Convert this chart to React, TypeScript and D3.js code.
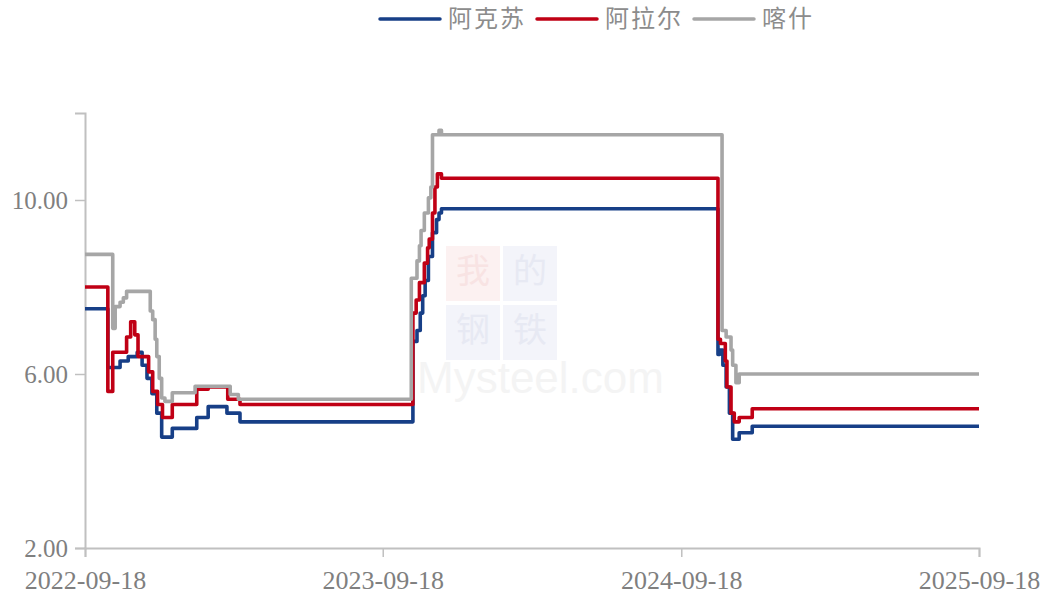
import React, { useEffect, useRef } from "react";
import * as d3 from "d3";

const svgWidth = 1048;
const svgHeight = 596;
const margin = { top: 113, right: 69, bottom: 48, left: 85 };

const seriesNames = ["阿克苏", "阿拉尔", "喀什"];
const seriesColors = ["#173f87", "#c00015", "#a6a6a6"];

// 阿克苏
const akesu: [string, number][] = [
  ["2022-09-18", 7.5],
  ["2022-10-16", 6.15],
  ["2022-10-31", 6.3],
  ["2022-11-10", 6.4],
  ["2022-11-21", 6.5],
  ["2022-11-27", 6.2],
  ["2022-12-03", 5.9],
  ["2022-12-09", 5.55],
  ["2022-12-15", 5.1],
  ["2022-12-21", 4.55],
  ["2023-01-03", 4.75],
  ["2023-02-02", 5.0],
  ["2023-02-16", 5.25],
  ["2023-03-11", 5.1],
  ["2023-03-27", 4.9],
  ["2023-10-25", 6.75],
  ["2023-10-30", 7.0],
  ["2023-11-03", 7.4],
  ["2023-11-06", 7.8],
  ["2023-11-09", 8.15],
  ["2023-11-13", 8.7],
  ["2023-11-18", 9.25],
  ["2023-11-23", 9.55],
  ["2023-11-26", 9.7],
  ["2023-11-29", 9.8],
  ["2024-11-02", 6.45],
  ["2024-11-04", 6.55],
  ["2024-11-08", 6.2],
  ["2024-11-12", 5.7],
  ["2024-11-16", 5.1],
  ["2024-11-20", 4.5],
  ["2024-11-28", 4.65],
  ["2024-12-14", 4.8],
  ["2025-09-18", 4.8],
];

// 阿拉尔
const alaer: [string, number][] = [
  ["2022-09-18", 8.0],
  ["2022-10-16", 5.6],
  ["2022-10-22", 6.5],
  ["2022-11-08", 6.85],
  ["2022-11-13", 7.2],
  ["2022-11-18", 6.9],
  ["2022-11-22", 6.4],
  ["2022-12-05", 6.05],
  ["2022-12-10", 5.6],
  ["2022-12-16", 5.3],
  ["2022-12-22", 5.0],
  ["2023-01-03", 5.3],
  ["2023-02-02", 5.65],
  ["2023-02-16", 5.7],
  ["2023-03-12", 5.42],
  ["2023-03-27", 5.3],
  ["2023-10-25", 7.4],
  ["2023-10-29", 7.7],
  ["2023-11-02", 8.1],
  ["2023-11-08", 8.55],
  ["2023-11-12", 8.9],
  ["2023-11-14", 9.1],
  ["2023-11-18", 9.7],
  ["2023-11-21", 10.3],
  ["2023-11-24", 10.6],
  ["2023-11-29", 10.5],
  ["2024-11-02", 6.8],
  ["2024-11-05", 6.7],
  ["2024-11-11", 6.3],
  ["2024-11-13", 5.7],
  ["2024-11-18", 5.1],
  ["2024-11-22", 4.9],
  ["2024-11-28", 5.0],
  ["2024-12-14", 5.2],
  ["2025-09-18", 5.2],
];

// 喀什
const kashi: [string, number][] = [
  ["2022-09-18", 8.75],
  ["2022-10-22", 7.05],
  ["2022-10-25", 7.55],
  ["2022-10-31", 7.65],
  ["2022-11-04", 7.75],
  ["2022-11-08", 7.9],
  ["2022-12-07", 7.45],
  ["2022-12-10", 7.25],
  ["2022-12-13", 6.8],
  ["2022-12-15", 6.4],
  ["2022-12-18", 5.9],
  ["2022-12-21", 5.45],
  ["2022-12-25", 5.37],
  ["2023-01-03", 5.57],
  ["2023-01-31", 5.72],
  ["2023-03-15", 5.53],
  ["2023-03-25", 5.42],
  ["2023-10-23", 8.2],
  ["2023-10-30", 8.6],
  ["2023-11-02", 8.95],
  ["2023-11-04", 9.3],
  ["2023-11-08", 9.7],
  ["2023-11-13", 10.05],
  ["2023-11-16", 10.3],
  ["2023-11-18", 11.5],
  ["2023-11-26", 11.6],
  ["2023-11-29", 11.5],
  ["2024-11-07", 7.0],
  ["2024-11-12", 6.85],
  ["2024-11-18", 6.55],
  ["2024-11-20", 6.2],
  ["2024-11-24", 5.8],
  ["2024-11-28", 6.0],
  ["2025-09-18", 6.0],
];

const allSeries = [akesu, alaer, kashi];

const xTickLabels = ["2022-09-18", "2023-09-18", "2024-09-18", "2025-09-18"];
const yTicks = [2, 6, 10];
const yDomain = [2, 12];

const watermarkChars = ["我", "的", "钢", "铁"];

const parseDate = d3.timeParse("%Y-%m-%d");
const fmtDate = d3.timeFormat("%Y-%m-%d");

const App = () => {
  const ref = useRef<SVGSVGElement | null>(null);

  useEffect(() => {
    const svg = d3.select(ref.current);
    svg.selectAll("*").remove();

    const xScale = d3
      .scaleTime()
      .domain([parseDate(xTickLabels[0])!, parseDate(xTickLabels[3])!])
      .range([margin.left, svgWidth - margin.right]);
    const yScale = d3
      .scaleLinear()
      .domain(yDomain)
      .range([svgHeight - margin.bottom, margin.top]);

    // faint watermark
    const wm = svg.append("g").attr("class", "watermark");
    watermarkChars.forEach((t, i) => {
      const x = 446 + (i % 2) * 57;
      const y = 246 + Math.floor(i / 2) * 59;
      const red = i === 0;
      wm.append("rect")
        .attr("x", x)
        .attr("y", y)
        .attr("width", 54)
        .attr("height", 55)
        .attr("fill", red ? "#fcf1f1" : "#f3f4fa");
      wm.append("text")
        .attr("x", x + 27)
        .attr("y", y + 37)
        .attr("text-anchor", "middle")
        .attr("font-family", "Noto Sans CJK SC")
        .attr("font-size", 34)
        .attr("fill", red ? "#f8e3e3" : "#e7e9f3")
        .text(t);
    });
    wm.append("text")
      .attr("x", 417)
      .attr("y", 393)
      .attr("font-family", "Liberation Sans, Arial, sans-serif")
      .attr("font-size", 44)
      .attr("fill", "#f4f4f4")
      .text("Mysteel.com");

    // y axis
    const yAxis = svg
      .append("g")
      .attr("transform", `translate(${margin.left},0)`)
      .call(
        d3
          .axisLeft(yScale)
          .tickValues(yTicks)
          .tickSize(10)
          .tickPadding(7)
          .tickFormat((d) => d3.format(".2f")(d as number))
      );
    yAxis.select(".domain").attr("stroke", "#c0c0c0").attr("stroke-width", 2);
    yAxis.selectAll(".tick line").attr("stroke", "#c0c0c0").attr("stroke-width", 1.5);
    yAxis
      .selectAll(".tick text")
      .attr("fill", "#7f7f7f")
      .attr("font-family", "Liberation Serif, Times New Roman, serif")
      .attr("font-size", 25);

    // x axis
    const xAxis = svg
      .append("g")
      .attr("transform", `translate(0,${svgHeight - margin.bottom})`)
      .call(
        d3
          .axisBottom(xScale)
          .tickValues(xTickLabels.map((d) => parseDate(d)!))
          .tickSize(9)
          .tickPadding(14)
          .tickFormat((d) => fmtDate(d as Date))
      );
    xAxis.select(".domain").attr("stroke", "#c0c0c0").attr("stroke-width", 2);
    xAxis.selectAll(".tick line").attr("stroke", "#c0c0c0").attr("stroke-width", 1.5);
    xAxis
      .selectAll(".tick text")
      .attr("fill", "#7f7f7f")
      .attr("font-family", "Liberation Serif, Times New Roman, serif")
      .attr("font-size", 26);

    const line = d3
      .line<[string, number]>()
      .x((d) => xScale(parseDate(d[0])!))
      .y((d) => yScale(d[1]))
      .curve(d3.curveStepAfter);

    allSeries.forEach((data, i) => {
      svg
        .append("path")
        .datum(data)
        .attr("fill", "none")
        .attr("stroke", seriesColors[i])
        .attr("stroke-width", 3.6)
        .attr("stroke-linejoin", "round")
        .attr("d", line);
    });

    // legend
    const legendX = [380, 537, 694];
    const legend = svg.append("g");
    seriesNames.forEach((name, i) => {
      legend
        .append("line")
        .attr("x1", legendX[i])
        .attr("x2", legendX[i] + 60)
        .attr("y1", 19)
        .attr("y2", 19)
        .attr("stroke", seriesColors[i])
        .attr("stroke-width", 3.5)
        .attr("stroke-linecap", "round");
      legend
        .append("text")
        .attr("x", legendX[i] + 68)
        .attr("y", 27)
        .attr("font-family", "Noto Sans CJK SC")
        .attr("font-size", 24)
        .attr("letter-spacing", 2)
        .attr("fill", "#8c8c8c")
        .text(name);
    });
  }, []);

  return (
    <svg
      ref={ref}
      width={svgWidth}
      height={svgHeight}
      style={{ position: "absolute", left: 0, top: 0, background: "#fff" }}
    />
  );
};

export default App;
